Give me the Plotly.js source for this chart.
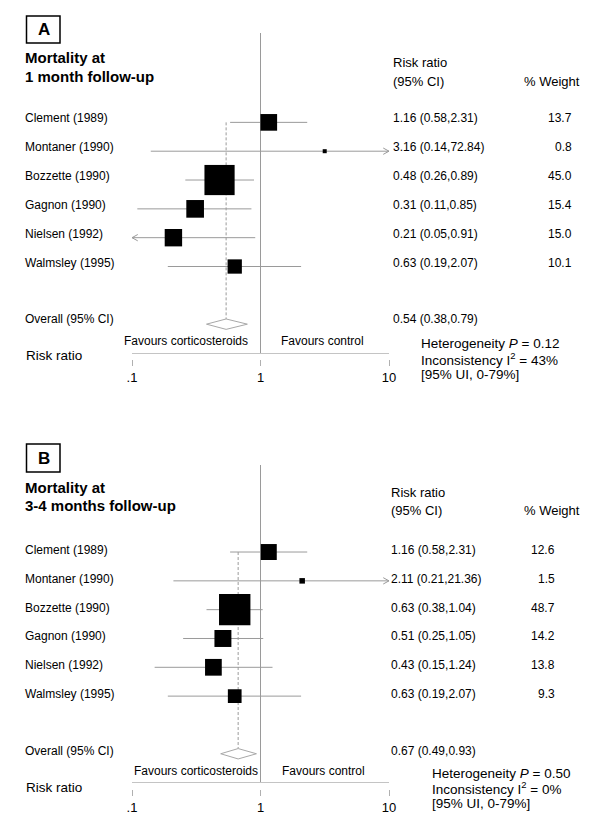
<!DOCTYPE html>
<html>
<head>
<meta charset="utf-8">
<script src="https://cdn.plot.ly/plotly-3.0.1.min.js"></script>
<style>html,body{margin:0;padding:0;background:#fff;}#chart{width:600px;height:840px;}</style>
</head>
<body>
<div id="chart"></div>
<script>
// ---------- DATA ----------
const studies = ["Clement (1989)", "Montaner (1990)", "Bozzette (1990)", "Gagnon (1990)", "Nielsen (1992)", "Walmsley (1995)"];

// Panel A: mortality at 1 month
const rrA = [1.16, 3.16, 0.48, 0.31, 0.21, 0.63];
const loA = [0.58, 0.14, 0.26, 0.11, 0.05, 0.19];
const hiA = [2.31, 72.84, 0.89, 0.85, 0.91, 2.07];
const wA  = [13.7, 0.8, 45.0, 15.4, 15.0, 10.1];
const overallA = [0.54, 0.38, 0.79];
const hetA = {p: "0.12", i2: "43%", ui: "0-79%"};

// Panel B: mortality at 3-4 months
const rrB = [1.16, 2.11, 0.63, 0.51, 0.43, 0.63];
const loB = [0.58, 0.21, 0.38, 0.25, 0.15, 0.19];
const hiB = [2.31, 21.36, 1.04, 1.05, 1.24, 2.07];
const wB  = [12.6, 1.5, 48.7, 14.2, 13.8, 9.3];
const overallB = [0.67, 0.49, 0.93];
const hetB = {p: "0.50", i2: "0%", ui: "0-79%"};

const tickVals = [0.1, 1, 10];
const tickText = [".1", "1", "10"];

// ---------- HELPERS ----------
const W = 600, H = 840;
const X = p => p / W;
const Y = p => 1 - p / H;
const FONT = "Liberation Sans, Arial, Helvetica, sans-serif";
const XMIN = 0.1, XMAX = 10;
const GRAY = "#9a9a9a";

const traces = [];
const annotations = [];
const shapes = [];

function panel(cfg) {
  const {rr, lo, hi, w, overall, het, xa, ya, textShift, textX, wX, wAnchor, hdrY, hetX, hetY, favY, favX1, favX2, rrLabY, label, boxY, titleY, titleLines, overallRow} = cfg;
  const rows = rr.map((_, i) => i + 1);

  // CI lines (clipped to axis range)
  const cx = [], cy = [];
  const ax = [], ay = [];
  rr.forEach((v, i) => {
    const l = Math.max(lo[i], XMIN), h = Math.min(hi[i], XMAX);
    cx.push(l, h, null); cy.push(rows[i], rows[i], null);
    if (hi[i] > XMAX) {
      const b = XMAX / Math.pow(10, 0.045);
      ax.push(b, XMAX, b, null); ay.push(rows[i] - 0.11, rows[i], rows[i] + 0.11, null);
    }
    if (lo[i] < XMIN) {
      const b = XMIN * Math.pow(10, 0.045);
      ax.push(b, XMIN, b, null); ay.push(rows[i] - 0.11, rows[i], rows[i] + 0.11, null);
    }
  });
  traces.push({x: cx, y: cy, xaxis: xa, yaxis: ya, mode: "lines", line: {color: GRAY, width: 1}, hoverinfo: "skip", cliponaxis: false});
  traces.push({x: ax, y: ay, xaxis: xa, yaxis: ya, mode: "lines", line: {color: GRAY, width: 1}, hoverinfo: "skip", cliponaxis: false});

  // dashed overall line
  traces.push({x: [overall[0], overall[0]], y: [1, overallRow - 0.18], xaxis: xa, yaxis: ya, mode: "lines",
    line: {color: GRAY, width: 1, dash: "3px,2px"}, hoverinfo: "skip"});

  // study boxes
  traces.push({x: rr, y: rows, xaxis: xa, yaxis: ya, mode: "markers",
    marker: {symbol: "square", color: "#000", opacity: 1, size: w.map(v => 4.5 * Math.sqrt(v)), line: {width: 0}},
    hoverinfo: "skip", cliponaxis: false});

  // overall diamond
  const d = 0.18;
  traces.push({x: [overall[1], overall[0], overall[2], overall[0], overall[1]],
    y: [overallRow, overallRow - d, overallRow, overallRow + d, overallRow],
    xaxis: xa, yaxis: ya, mode: "lines", fill: "toself", fillcolor: "#fff",
    line: {color: "#a8a8a8", width: 1}, hoverinfo: "skip"});

  // reference line at 1
  shapes.push({type: "line", xref: xa, x0: 1, x1: 1, yref: ya + " domain", y0: 0, y1: 1,
    line: {color: GRAY, width: 1}, layer: "below"});

  // panel label box
  shapes.push({type: "rect", xref: "paper", yref: "paper", x0: X(26.5), x1: X(60), y0: Y(boxY[1]), y1: Y(boxY[0]),
    line: {color: "#000", width: 1.5}});
  annotations.push({xref: "paper", yref: "paper", x: X(43.5), y: Y((boxY[0] + boxY[1]) / 2 + 0.5), text: "<b>" + label + "</b>",
    showarrow: false, xanchor: "center", yanchor: "middle", font: {family: FONT, size: 17, color: "#000"}});

  // titles
  titleLines.forEach((t, k) => {
    annotations.push({xref: "paper", yref: "paper", x: X(23), y: Y(titleY[k]), text: "<b>" + t + "</b>",
      showarrow: false, xanchor: "left", yanchor: "middle", font: {family: FONT, size: 15, color: "#000"}});
  });

  // headers
  annotations.push({xref: "paper", yref: "paper", x: X(textX), y: Y(hdrY[0]), text: "Risk ratio", showarrow: false,
    xanchor: "left", yanchor: "middle", font: {family: FONT, size: 13, color: "#000"}});
  annotations.push({xref: "paper", yref: "paper", x: X(textX), y: Y(hdrY[1]), text: "(95% CI)", showarrow: false,
    xanchor: "left", yanchor: "middle", font: {family: FONT, size: 13, color: "#000"}});
  annotations.push({xref: "paper", yref: "paper", x: X(522), y: Y(hdrY[1]), text: "% Weight", showarrow: false,
    xanchor: "left", yanchor: "middle", font: {family: FONT, size: 13, color: "#000"}});

  // rows text
  studies.forEach((s, i) => {
    annotations.push({xref: "paper", yref: ya, x: X(23), y: rows[i], yshift: textShift, text: s, showarrow: false,
      xanchor: "left", yanchor: "middle", font: {family: FONT, size: 12, color: "#000"}});
    annotations.push({xref: "paper", yref: ya, x: X(textX), y: rows[i], yshift: textShift,
      text: rr[i].toFixed(2) + " (" + lo[i].toFixed(2) + "," + hi[i].toFixed(2) + ")", showarrow: false,
      xanchor: "left", yanchor: "middle", font: {family: FONT, size: 12, color: "#000"}});
    annotations.push({xref: "paper", yref: ya, x: X(wX), y: rows[i], yshift: textShift, text: w[i].toFixed(1), showarrow: false,
      xanchor: wAnchor, yanchor: "middle", font: {family: FONT, size: 12, color: "#000"}});
  });
  annotations.push({xref: "paper", yref: ya, x: X(23), y: overallRow, yshift: textShift + 1, text: "Overall (95% CI)", showarrow: false,
    xanchor: "left", yanchor: "middle", font: {family: FONT, size: 12, color: "#000"}});
  annotations.push({xref: "paper", yref: ya, x: X(textX), y: overallRow, yshift: textShift + 1,
    text: overall[0].toFixed(2) + " (" + overall[1].toFixed(2) + "," + overall[2].toFixed(2) + ")", showarrow: false,
    xanchor: "left", yanchor: "middle", font: {family: FONT, size: 12, color: "#000"}});

  // favours
  annotations.push({xref: "paper", yref: "paper", x: X(favX1), y: Y(favY), text: "Favours corticosteroids", showarrow: false,
    xanchor: "center", yanchor: "middle", font: {family: FONT, size: 12, color: "#000"}});
  annotations.push({xref: "paper", yref: "paper", x: X(favX2), y: Y(favY), text: "Favours control", showarrow: false,
    xanchor: "center", yanchor: "middle", font: {family: FONT, size: 12, color: "#000"}});

  // axis label
  annotations.push({xref: "paper", yref: "paper", x: X(24), y: Y(rrLabY), text: "Risk ratio", showarrow: false,
    xanchor: "left", yanchor: "middle", font: {family: FONT, size: 13.5, color: "#000"}});

  // heterogeneity
  const hetLines = ["Heterogeneity <i>P</i> = " + het.p,
                    "Inconsistency I<sup>2</sup> = " + het.i2,
                    "[95% UI, " + het.ui + "]"];
  hetLines.forEach((t, k) => {
    annotations.push({xref: "paper", yref: "paper", x: X(hetX), y: Y(hetY[k]), text: t, showarrow: false,
      xanchor: "left", yanchor: "middle", font: {family: FONT, size: 13.5, color: "#000"}});
  });
}

panel({rr: rrA, lo: loA, hi: hiA, w: wA, overall: overallA, het: hetA, xa: "x", ya: "y",
  textShift: 4, textX: 391, wX: 574, wAnchor: "right", hdrY: [63, 82], hetX: 419, hetY: [343, 359, 374],
  favY: 341, favX1: 186, favX2: 322, rrLabY: 355, label: "A", boxY: [16, 43], titleY: [58, 76],
  titleLines: ["Mortality at", "1 month follow-up"], overallRow: 8});

panel({rr: rrB, lo: loB, hi: hiB, w: wB, overall: overallB, het: hetB, xa: "x2", ya: "y2",
  textShift: 2, textX: 389, wX: 557, wAnchor: "right", hdrY: [492, 511], hetX: 430, hetY: [773, 788, 803],
  favY: 771, favX1: 196, favX2: 323, rrLabY: 787, label: "B", boxY: [444, 472], titleY: [487, 505],
  titleLines: ["Mortality at", "3-4 months follow-up"], overallRow: 8});

// dummy traces to register tick-only overlay axes
traces.push({x: [], y: [], xaxis: "x3", yaxis: "y", mode: "markers", hoverinfo: "skip"});
traces.push({x: [], y: [], xaxis: "x4", yaxis: "y2", mode: "markers", hoverinfo: "skip"});

const logRange = [Math.log10(XMIN), Math.log10(XMAX)];
const dom = [X(132), X(389)];
const baseX = a => ({type: "log", range: logRange, domain: dom, anchor: a, showline: true, linecolor: "#c4c4c4",
  linewidth: 1, ticks: "", showticklabels: false, showgrid: false, zeroline: false, fixedrange: true});
const tickX = (ov, pos) => ({type: "log", range: logRange, domain: dom, overlaying: ov, anchor: "free", position: pos,
  tickmode: "array", tickvals: tickVals, ticktext: tickText, ticks: "outside", ticklen: 6, tickcolor: "#b0b0b0",
  tickwidth: 1, showline: false, showgrid: false, zeroline: false, side: "bottom",
  tickfont: {family: FONT, size: 13, color: "#000"}, fixedrange: true});

const layout = {
  width: W, height: H,
  margin: {l: 0, r: 0, t: 0, b: 0},
  paper_bgcolor: "#fff", plot_bgcolor: "rgba(0,0,0,0)",
  showlegend: false,
  xaxis: baseX("y"),
  yaxis: {domain: [Y(353), Y(33)], range: [9.0, -2.1], visible: false, fixedrange: true},
  xaxis2: baseX("y2"),
  yaxis2: {domain: [Y(782), Y(465)], range: [8.98, -2.02], visible: false, fixedrange: true},
  xaxis3: tickX("x", Y(359)),
  xaxis4: tickX("x2", Y(789)),
  shapes: shapes,
  annotations: annotations
};

Plotly.newPlot("chart", traces, layout, {displayModeBar: false, staticPlot: true});
</script>
</body>
</html>
